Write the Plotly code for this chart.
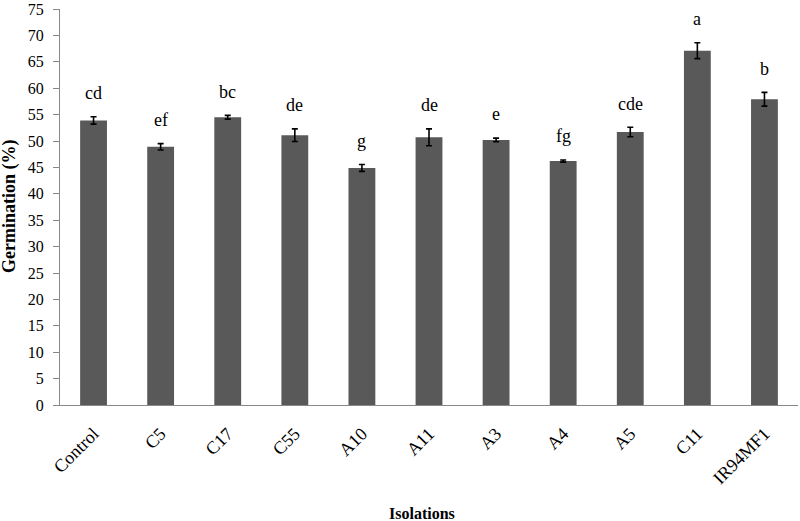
import plotly.graph_objects as go

categories = ["Control", "C5", "C17", "C55", "A10", "A11", "A3", "A4", "A5", "C11", "IR94MF1"]
germination = [53.9, 48.9, 54.5, 51.1, 44.9, 50.7, 50.2, 46.2, 51.7, 67.1, 57.9]
errors = [0.7, 0.6, 0.35, 1.2, 0.65, 1.6, 0.35, 0.2, 0.9, 1.5, 1.3]
letters = ["cd", "ef", "bc", "de", "g", "de", "e", "fg", "cde", "a", "b"]
y_ticks = list(range(0, 80, 5))

FONT = "Liberation Serif, Times New Roman, serif"

fig = go.Figure()
fig.add_trace(go.Bar(
    x=categories,
    y=germination,
    marker=dict(color="#595959", line=dict(width=0)),
    error_y=dict(type="data", array=errors, visible=True,
                 color="#000000", thickness=1.6, width=3),
    showlegend=False,
))

for c, v, e, l in zip(categories, germination, errors, letters):
    fig.add_annotation(x=c, y=v + e + 4.5, text=l, showarrow=False,
                       xref="x", yref="y", yanchor="middle",
                       font=dict(family=FONT, size=18, color="#000000"))

fig.add_annotation(x=0, y=0.5, xref="paper", yref="paper", xshift=-51,
                   text="<b>Germination (%)</b>", textangle=-90, showarrow=False,
                   xanchor="center", yanchor="middle",
                   font=dict(family=FONT, size=18, color="#000000"))
fig.add_annotation(x=0.49, y=0, xref="paper", yref="paper", yshift=-108,
                   text="<b>Isolations</b>", showarrow=False,
                   xanchor="center", yanchor="middle",
                   font=dict(family=FONT, size=16, color="#000000"))

fig.update_layout(
    width=800, height=521,
    margin=dict(l=60, r=2, t=9, b=116),
    paper_bgcolor="white", plot_bgcolor="white",
    bargap=0.6,
    font=dict(family=FONT, size=16, color="#000000"),
)
fig.update_xaxes(
    showline=True, linecolor="#888888", linewidth=1.2,
    ticks="", tickangle=-45, automargin=False,
    ticklabelstandoff=10,
    tickfont=dict(family=FONT, size=18, color="#000000"),
    showgrid=False,
)
fig.update_yaxes(
    range=[0, 75], tickvals=y_ticks, automargin=False,
    showline=True, linecolor="#888888", linewidth=1.2,
    ticks="outside", ticklen=6, tickcolor="#888888",
    ticklabelstandoff=6,
    tickfont=dict(family=FONT, size=16, color="#000000"),
    showgrid=False, zeroline=False,
)

fig.write_html("out.html",
               config={"displayModeBar": False},
               post_script="document.body.style.margin='0';document.body.style.overflow='hidden';")
